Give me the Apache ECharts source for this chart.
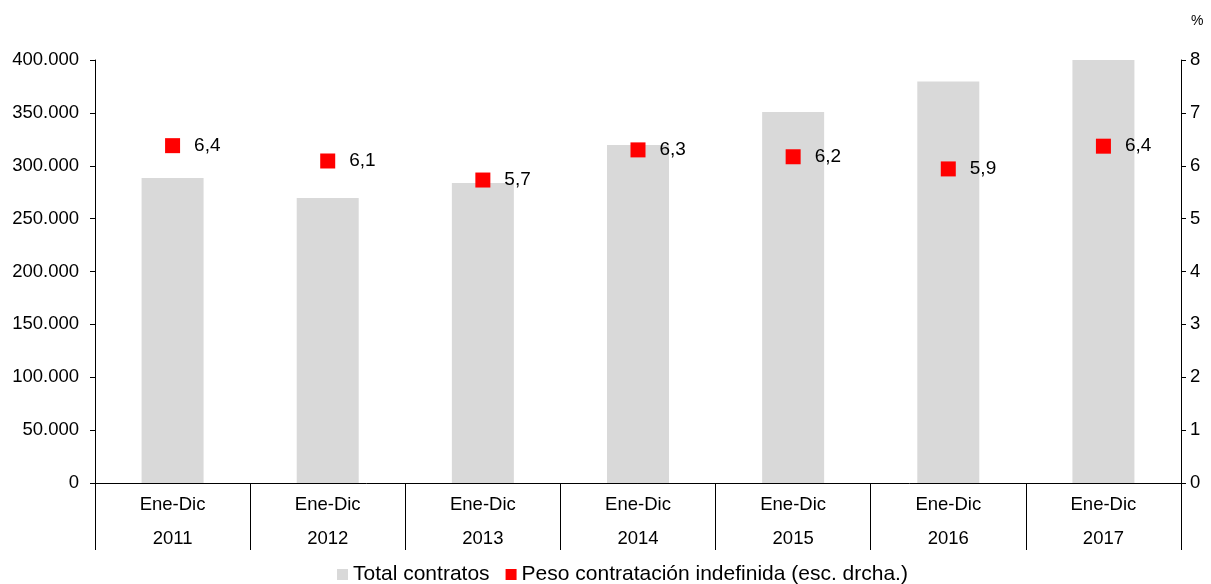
<!DOCTYPE html>
<html>
<head>
<meta charset="utf-8">
<script src="https://cdn.jsdelivr.net/npm/echarts@6/dist/echarts.min.js"></script>
<style>html,body{margin:0;padding:0;background:#fff}#c{width:1211px;height:584px}</style>
</head>
<body>
<div id="c"></div>
<script>
var periods = ['Ene-Dic', 'Ene-Dic', 'Ene-Dic', 'Ene-Dic', 'Ene-Dic', 'Ene-Dic', 'Ene-Dic'];
var years = ['2011', '2012', '2013', '2014', '2015', '2016', '2017'];
var totalContratos = [288500, 269500, 283700, 319600, 350800, 379600, 400000];
var pesoIndefinida = [6.38, 6.09, 5.73, 6.30, 6.17, 5.94, 6.37];
var seriesNames = ['Total contratos', 'Peso contratación indefinida (esc. drcha.)'];

var categories = years.map(function (y, i) { return periods[i] + '\n' + y; });
var FONT = '"Liberation Sans", Arial, sans-serif';

var chart = echarts.init(document.getElementById('c'));
chart.setOption({
  animation: false,
  textStyle: { fontFamily: FONT, color: '#000' },
  grid: { left: 95, right: 30, top: 60, bottom: 101, containLabel: false },
  legend: {
    top: 564, left: 337, padding: 0,
    itemWidth: 11, itemHeight: 11, itemGap: 16,
    textStyle: { fontFamily: FONT, fontSize: 21, color: '#000', width: null },
    data: [
      { name: seriesNames[0], icon: 'rect', itemStyle: { color: '#d9d9d9' } },
      { name: seriesNames[1], icon: 'rect', itemStyle: { color: '#ff0000', opacity: 1 } }
    ]
  },
  xAxis: {
    type: 'category',
    data: categories,
    boundaryGap: true,
    axisLine: { lineStyle: { color: '#000', width: 1 } },
    axisTick: { show: true, length: 67, interval: 0, lineStyle: { color: '#000' } },
    axisLabel: { interval: 0, margin: 5, fontSize: 18.5, lineHeight: 34, color: '#000', fontFamily: FONT }
  },
  yAxis: [
    {
      type: 'value', min: 0, max: 400000, interval: 50000,
      axisLine: { show: true, lineStyle: { color: '#000' } },
      axisTick: { show: true, length: 5, lineStyle: { color: '#000' } },
      splitLine: { show: false },
      axisLabel: {
        margin: 16, fontSize: 18.5, color: '#000', fontFamily: FONT,
        formatter: function (v) { return v === 0 ? '0' : String(v).replace(/\B(?=(\d{3})+(?!\d))/g, '.'); }
      }
    },
    {
      type: 'value', min: 0, max: 8, interval: 1,
      position: 'right',
      name: '%', nameLocation: 'end', nameGap: 32,
      nameTextStyle: { fontSize: 14, color: '#000', fontFamily: FONT, align: 'left', padding: [0, 0, 0, 10] },
      axisLine: { show: true, lineStyle: { color: '#000' } },
      axisTick: { show: true, length: 5, lineStyle: { color: '#000' } },
      splitLine: { show: false },
      axisLabel: { margin: 9, fontSize: 18.5, color: '#000', fontFamily: FONT }
    }
  ],
  series: [
    {
      name: seriesNames[0], type: 'bar', yAxisIndex: 0,
      data: totalContratos, barWidth: 62,
      itemStyle: { color: '#d9d9d9' }
    },
    {
      name: seriesNames[1], type: 'scatter', yAxisIndex: 1,
      data: pesoIndefinida, symbol: 'rect', symbolSize: 15,
      itemStyle: { color: '#ff0000', opacity: 1 },
      label: {
        show: true, position: 'right', distance: 14, opacity: 1,
        fontSize: 19, color: '#000', fontFamily: FONT,
        formatter: function (p) { return p.value.toFixed(1).replace('.', ','); }
      },
      z: 5
    }
  ]
});
</script>
</body>
</html>
